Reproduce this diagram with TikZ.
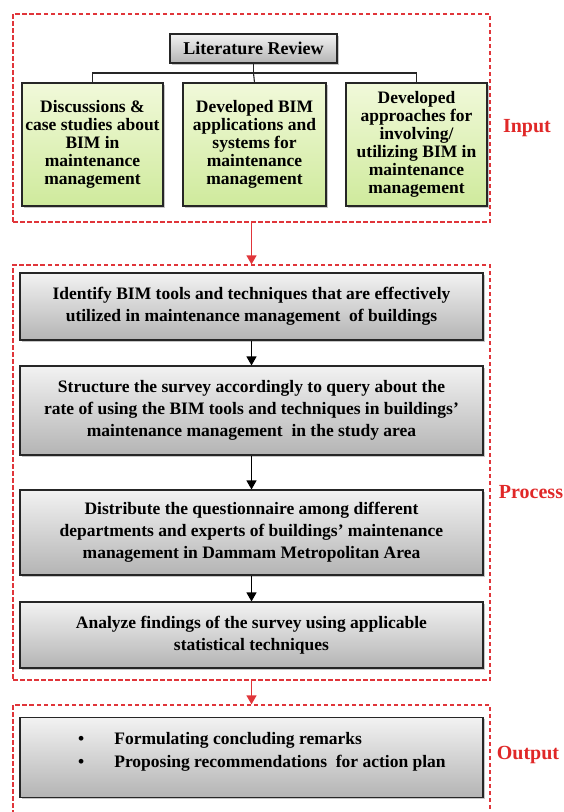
\documentclass[tikz,border=0pt]{standalone}
\usepackage{fontspec}
\setmainfont{Liberation Serif}
\usetikzlibrary{shadows,arrows.meta}
\definecolor{framered}{HTML}{E0353A}
\definecolor{labelred}{HTML}{E02828}
\definecolor{greentop}{HTML}{F1F9DA}
\definecolor{greenbot}{HTML}{CFEA9C}
\definecolor{graytop}{HTML}{F2F2F2}
\definecolor{graybot}{HTML}{B4B4B4}
\begin{document}
\begin{tikzpicture}[x=1pt,y=-1pt,
  phasebox/.style={draw=framered,dash pattern=on 4.5pt off 2.5pt,line width=1.3pt,inner sep=0pt},
  phaselabel/.style={text=labelred,font=\fontsize{20}{22}\selectfont\bfseries},
  graybox/.style={draw=black!85,line width=1.1pt,top color=graytop,bottom color=graybot,
    drop shadow={shadow xshift=1.5pt,shadow yshift=-1.5pt,opacity=0.45},
    align=center,inner sep=1pt,font=\fontsize{17.5}{22}\selectfont\bfseries},
  greenbox/.style={draw=black!85,line width=1.1pt,top color=greentop,bottom color=greenbot,
    drop shadow={shadow xshift=1.5pt,shadow yshift=-1.5pt,opacity=0.45},
    align=center,inner sep=0pt,font=\fontsize{17.5}{18}\selectfont\bfseries},
  tree/.style={draw=black!85,line width=1.1pt},
  flow/.style={draw=black,line width=1.1pt,-{Triangle[length=9pt,width=10pt]}},
  redflow/.style={draw=framered,line width=1.3pt,-{Triangle[length=9pt,width=10pt]}}
]
\useasboundingbox (0,0) rectangle (564,812);

% phase frames
\node[phasebox,minimum width=477pt,minimum height=208pt] (inframe) at (251.5,118) {};
\node[phasebox,minimum width=477pt,minimum height=415pt] (procframe) at (251.5,472.5) {};
\node[phasebox,minimum width=477pt,minimum height=110pt] (outframe) at (251.5,760) {};

\node[phaselabel] (inlabel) at (527,128) {Input};
\node[phaselabel] (proclabel) at (531,492) {Process};
\node[phaselabel] (outlabel) at (528,755) {Output};

% input stage
\node[graybox,minimum width=167pt,minimum height=29pt,font=\fontsize{18}{20}\selectfont\bfseries] (lit) at (253.5,48.5) {Literature Review};
\node[greenbox,minimum width=141pt,minimum height=123pt] (g1) at (92.5,144.5)
  {Discussions \&\\case studies about\\BIM in\\maintenance\\management};
\node[greenbox,minimum width=143pt,minimum height=123pt] (g2) at (254.5,144.5)
  {Developed BIM\\applications and\\systems for\\maintenance\\management};
\node[greenbox,minimum width=141pt,minimum height=123pt] (g3) at (416.5,144.5)
  {Developed\\approaches for\\involving/\\utilizing BIM in\\maintenance\\management};

\coordinate (split) at (253.5,73);
\draw[tree] (lit.south) -- (split);
\draw[tree] (split) -| (g1.north);
\draw[tree] (split) -| (g3.north);
\draw[tree] (split) -- (g2.north);

% process stage
\node[graybox,minimum width=463pt,minimum height=67pt] (p1) at (251.5,306.5)
  {Identify BIM tools and techniques that are effectively\\utilized in maintenance management\ \ of buildings};
\node[graybox,minimum width=463pt,minimum height=89pt] (p2) at (251.5,410.5)
  {Structure the survey accordingly to query about the\\rate of using the BIM tools and techniques in buildings’\\maintenance management\ \ in the study area};
\node[graybox,minimum width=463pt,minimum height=85pt] (p3) at (251.5,532.5)
  {Distribute the questionnaire among different\\departments and experts of buildings’ maintenance\\management in Dammam Metropolitan Area};
\node[graybox,minimum width=463pt,minimum height=66pt] (p4) at (251.5,635)
  {Analyze findings of the survey using applicable\\statistical techniques};

\draw[flow] (p1.south) -- (p2.north);
\draw[flow] (p2.south) -- (p3.north);
\draw[flow] (p3.south) -- (p4.north);

% output stage
\node[graybox,minimum width=463pt,minimum height=80pt] (o1) at (251.5,757.5) {};
\node[anchor=west,inner sep=0pt,font=\fontsize{17.5}{23}\selectfont\bfseries] (otext) at (78,751)
  {\begin{tabular}{@{}l@{\hspace{30pt}}l@{}}
   \textbullet & Formulating concluding remarks\\
   \textbullet & Proposing recommendations\ \ for action plan
   \end{tabular}};

\draw[redflow] (inframe.south) -- (procframe.north);
\draw[redflow] (procframe.south) -- (outframe.north);
\end{tikzpicture}
\end{document}
